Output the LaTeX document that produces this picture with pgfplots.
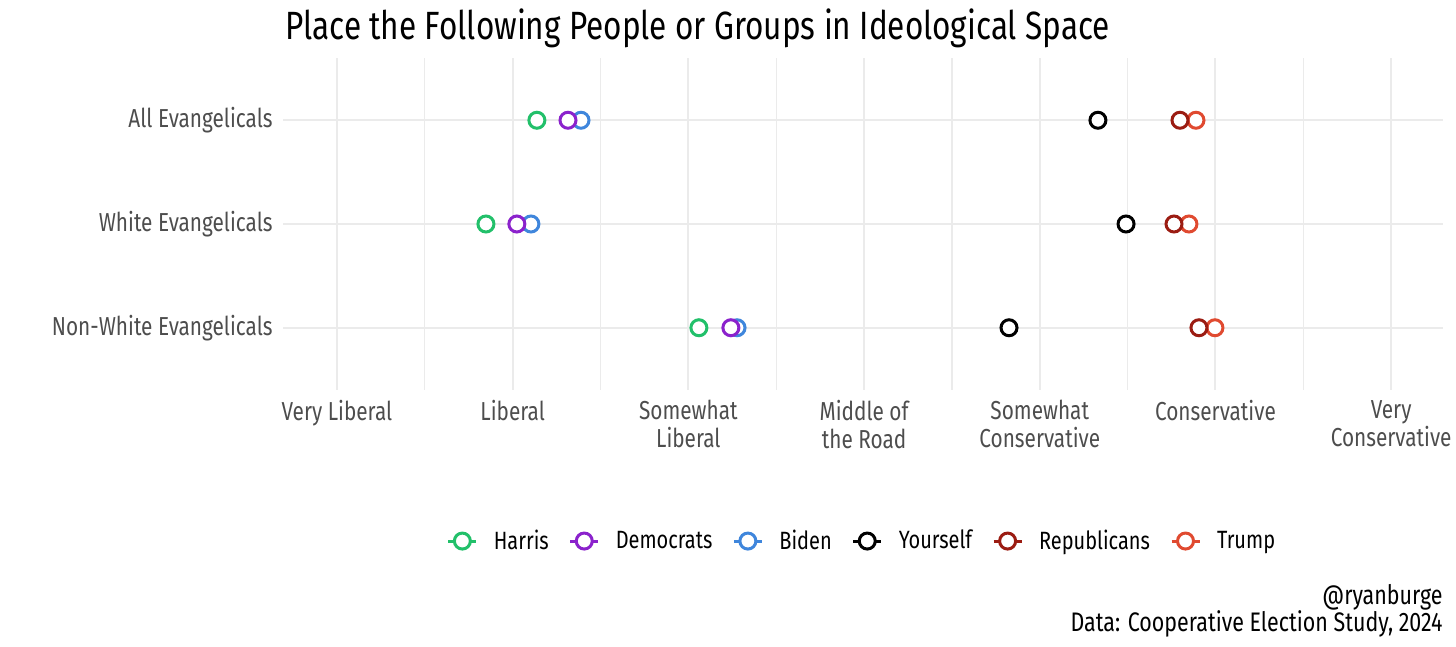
\documentclass[border=0pt]{standalone}
\usepackage{fontspec}
\setmainfont{Fira Sans}[FakeStretch=0.8]
\usepackage{pgfplots}
\pgfplotsset{compat=1.18}

\definecolor{harris}{HTML}{22C06A}
\definecolor{dems}{HTML}{8B22CC}
\definecolor{biden}{HTML}{3F86DC}
\definecolor{you}{HTML}{000000}
\definecolor{reps}{HTML}{9B1C12}
\definecolor{trump}{HTML}{E04A30}
\definecolor{gridgray}{HTML}{EBEBEB}
\definecolor{ticktext}{HTML}{4D4D4D}

% y: 3 = All, 2 = White, 1 = Non-White
\pgfplotstableread{
y x
3 2.138
2 1.848
1 3.060
}\harris
\pgfplotstableread{
y x
3 2.315
2 2.024
1 3.242
}\dems
\pgfplotstableread{
y x
3 2.389
2 2.104
1 3.277
}\biden
\pgfplotstableread{
y x
3 5.331
2 5.491
1 4.825
}\you
\pgfplotstableread{
y x
3 5.798
2 5.764
1 5.906
}\reps
\pgfplotstableread{
y x
3 5.889
2 5.849
1 5.997
}\trump

\begin{document}
\begin{tikzpicture}[x=1pt,y=1pt]
\useasboundingbox (0,0) rectangle (728,323.5);
\begin{axis}[
  at={(141.5pt,128.5pt)}, anchor=south west,
  scale only axis, width=580pt, height=166pt,
  xmin=0.693, xmax=7.295, ymin=0.4, ymax=3.6,
  axis line style={draw=none},
  major tick length=0pt, minor tick length=0pt,
  xtick={1,...,7}, minor xtick={1.5,2.5,...,6.5},
  xticklabels={Very Liberal, Liberal, {Somewhat\\Liberal}, {Middle of\\the Road}, {Somewhat\\Conservative}, Conservative, {Very\\Conservative}},
  xticklabel style={align=center, anchor=north, inner sep=0pt, yshift=-5pt,
    text=ticktext, font=\fontsize{13}{14}\selectfont},
  ytick={1,2,3},
  yticklabels={Non-White Evangelicals, White Evangelicals, All Evangelicals},
  yticklabel style={anchor=east, inner sep=0pt, xshift=-5pt,
    text=ticktext, font=\fontsize{13}{14}\selectfont},
  xmajorgrids, xminorgrids, ymajorgrids,
  major grid style={draw=gridgray, line width=1pt},
  minor grid style={draw=gridgray, line width=0.6pt},
  clip=false,
  legend columns=6, reverse legend,
  legend style={at={(0.5,-0.455)}, anchor=center, draw=none, fill=none,
    font=\fontsize{12.5}{14}\selectfont, inner sep=0pt,
    /tikz/every odd column/.append style={column sep=6pt},
    /tikz/every even column/.append style={column sep=8pt}},
  legend cell align=left,
  legend image code/.code={
    \draw[#1, line width=1.5pt] (0pt,0pt) -- (14pt,0pt);
    \draw[#1] plot coordinates {(7pt,0pt)};
  },
  every axis plot/.append style={only marks, mark=*, mark size=4pt,
    line width=1.5pt},
]
\addplot[trump, mark options={draw=trump, fill=white}] table[x=x,y=y] {\trump};
\addlegendentry{Trump}
\addplot[reps, mark options={draw=reps, fill=white}] table[x=x,y=y] {\reps};
\addlegendentry{Republicans}
\addplot[you, mark options={draw=you, fill=white}] table[x=x,y=y] {\you};
\addlegendentry{Yourself}
\addplot[biden, mark options={draw=biden, fill=white}] table[x=x,y=y] {\biden};
\addlegendentry{Biden}
\addplot[dems, mark options={draw=dems, fill=white}] table[x=x,y=y] {\dems};
\addlegendentry{Democrats}
\addplot[harris, mark options={draw=harris, fill=white}] table[x=x,y=y] {\harris};
\addlegendentry{Harris}
\end{axis}
\node[anchor=base west, inner sep=0pt, font=\fontsize{19.7}{22}\selectfont] at (142.5,303.5)
  {Place the Following People or Groups in Ideological Space};
\node[anchor=base east, inner sep=0pt, font=\fontsize{13.4}{14}\selectfont] at (721.5,21)
  {@ryanburge};
\node[anchor=base east, inner sep=0pt, font=\fontsize{13.4}{14}\selectfont] at (721.5,7.5)
  {Data: Cooperative Election Study, 2024};
\end{tikzpicture}
\end{document}
